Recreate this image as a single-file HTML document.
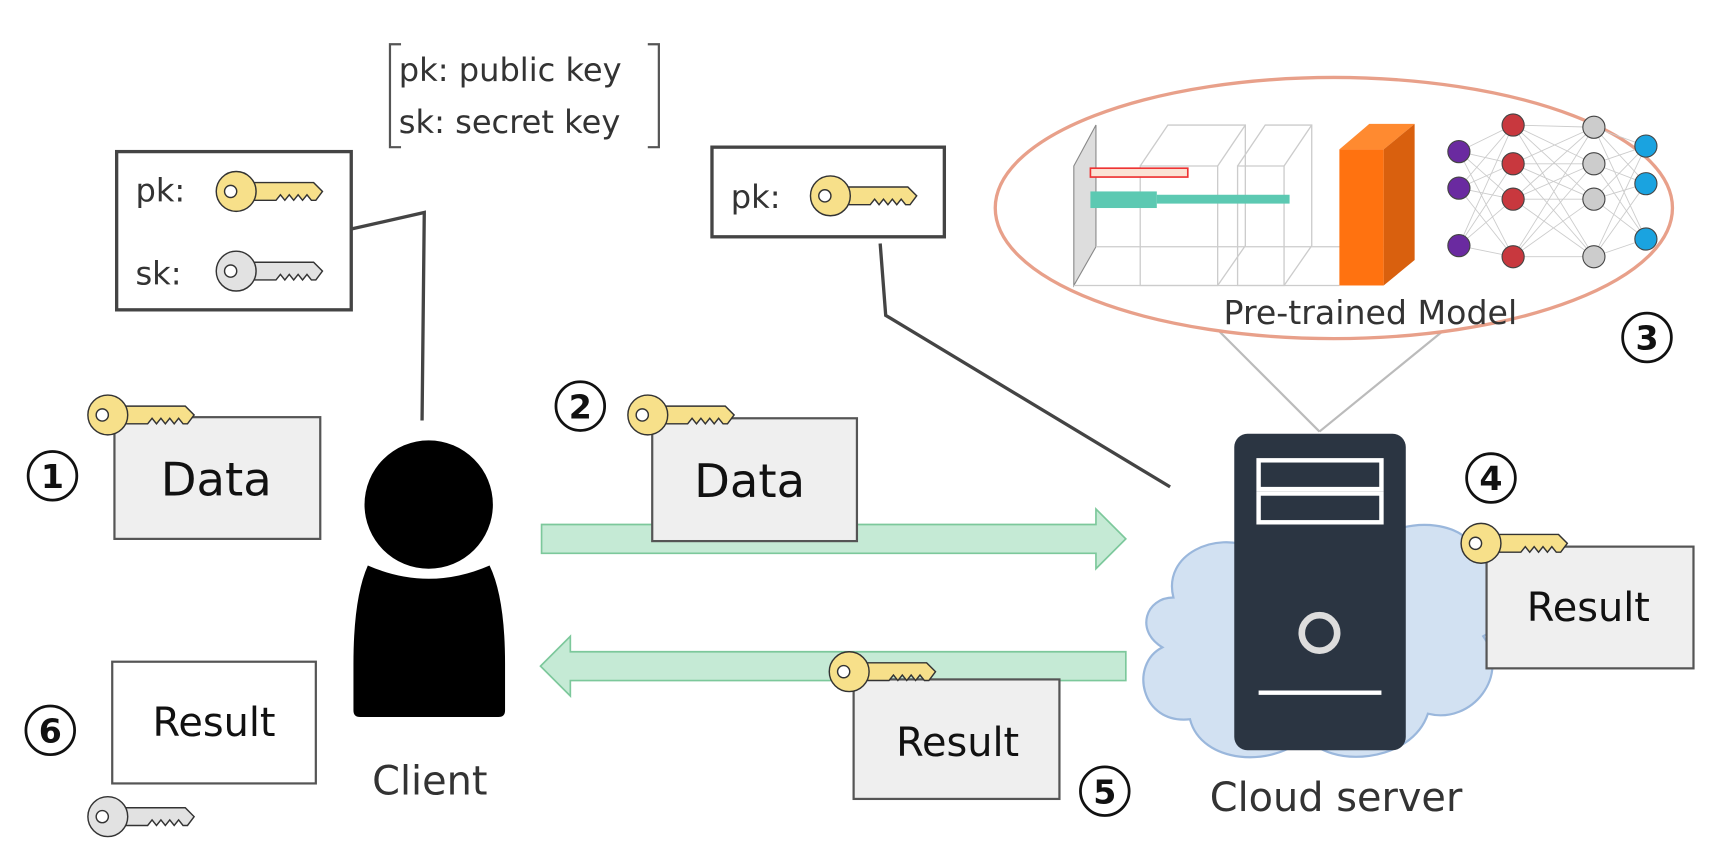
<!DOCTYPE html>
<html><head><meta charset="utf-8"><style>
html,body{margin:0;padding:0;background:#fff;width:1736px;height:862px;overflow:hidden}
svg{display:block}
text{font-family:"DejaVu Sans","Liberation Sans",sans-serif}
</style></head><body>
<svg width="1736" height="862" viewBox="0 0 1568 779" xmlns="http://www.w3.org/2000/svg">
<defs>
<symbol id="key" overflow="visible">
<path d="M10,-8 L70,-8 L78,0 L72,8 L68,8 L64,3 L60,8 L56,3 L52,8 L48,3 L44,8 L40,3 L36,8 L10,8 Z" stroke="#333" stroke-width="1.3"/>
<circle cx="0" cy="0" r="18" stroke="#333" stroke-width="1.3"/>
<circle cx="-5" cy="0" r="5.5" fill="#fff" stroke="#333" stroke-width="1.3"/>
</symbol>
</defs>

<text x="360" y="73" font-size="29" fill="#333">pk: public key</text>
<text x="360" y="120" font-size="29" fill="#333">sk: secret key</text>
<path d="M362,40 H352 V133 H362 M585,40 H595 V133 H585" fill="none" stroke="#555" stroke-width="2"/>

<rect x="105" y="137" width="212" height="143" fill="#fff" stroke="#444" stroke-width="3"/>
<text x="122" y="182" font-size="29" fill="#333">pk:</text>
<use href="#key" x="213" y="173" fill="#f7e08a"/>
<text x="122" y="257" font-size="29" fill="#333">sk:</text>
<use href="#key" x="213" y="245" fill="#e2e2e2"/>
<polyline points="317,207 383,192 381,380" fill="none" stroke="#444" stroke-width="3"/>

<rect x="643" y="133" width="210" height="81" fill="#fff" stroke="#444" stroke-width="3"/>
<text x="660" y="188" font-size="29" fill="#333">pk:</text>
<use href="#key" x="750" y="177" fill="#f7e08a"/>
<polyline points="795,220 800,285 1057,440" fill="none" stroke="#444" stroke-width="3"/>

<line x1="1100" y1="298" x2="1192" y2="390" stroke="#bbb" stroke-width="2"/>
<line x1="1305" y1="298" x2="1192" y2="390" stroke="#bbb" stroke-width="2"/>
<ellipse cx="1205" cy="188" rx="306" ry="118" fill="#fff" stroke="#e8a08a" stroke-width="3"/>
<polygon points="970,150 990,113 990,223 970,258" fill="#ddd" stroke="#888"/>
<g fill="none" stroke="#ccc" stroke-width="1.2">
<polygon points="1030,150 1100,150 1100,258 1030,258"/>
<polyline points="1030,150 1055,113 1125,113 1125,222 1100,258"/>
<line x1="1100" y1="150" x2="1125" y2="113"/>
<polygon points="1118,150 1160,150 1160,258 1118,258"/>
<polyline points="1118,150 1143,113 1185,113 1185,222 1160,258"/>
<line x1="1160" y1="150" x2="1185" y2="113"/>
<line x1="990" y1="223" x2="1250" y2="223"/>
<line x1="970" y1="258" x2="1210" y2="258"/>
</g>
<rect x="985" y="152" width="88" height="8" fill="#fbe3d5" stroke="#e33" stroke-width="1.5"/>
<rect x="985" y="173" width="60" height="15" fill="#5cc9b2"/>
<rect x="1045" y="176" width="120" height="8" fill="#5cc9b2"/>
<polygon points="1210,135 1237,112 1278,112 1250,135" fill="#ff8a30"/>
<polygon points="1250,135 1278,112 1278,235 1250,258" fill="#d9600e"/>
<rect x="1210" y="135" width="40" height="123" fill="#ff7210"/>
<g stroke="#ccc" stroke-width="0.8">
<path d="M1318,137 L1367,113 M1318,137 L1367,148 M1318,137 L1367,180 M1318,137 L1367,232 M1318,170 L1367,113 M1318,170 L1367,148 M1318,170 L1367,180 M1318,170 L1367,232 M1318,222 L1367,113 M1318,222 L1367,148 M1318,222 L1367,180 M1318,222 L1367,232"/>
<path d="M1367,113 L1440,115 M1367,113 L1440,148 M1367,113 L1440,180 M1367,113 L1440,232 M1367,148 L1440,115 M1367,148 L1440,148 M1367,148 L1440,180 M1367,148 L1440,232 M1367,180 L1440,115 M1367,180 L1440,148 M1367,180 L1440,180 M1367,180 L1440,232 M1367,232 L1440,115 M1367,232 L1440,148 M1367,232 L1440,180 M1367,232 L1440,232"/>
<path d="M1440,115 L1487,132 M1440,115 L1487,166 M1440,115 L1487,216 M1440,148 L1487,132 M1440,148 L1487,166 M1440,148 L1487,216 M1440,180 L1487,132 M1440,180 L1487,166 M1440,180 L1487,216 M1440,232 L1487,132 M1440,232 L1487,166 M1440,232 L1487,216"/>
</g>
<g stroke="#444" stroke-width="1">
<circle cx="1318" cy="137" r="10" fill="#6a2aa0"/><circle cx="1318" cy="170" r="10" fill="#6a2aa0"/><circle cx="1318" cy="222" r="10" fill="#6a2aa0"/>
<circle cx="1367" cy="113" r="10" fill="#c8383e"/><circle cx="1367" cy="148" r="10" fill="#c8383e"/><circle cx="1367" cy="180" r="10" fill="#c8383e"/><circle cx="1367" cy="232" r="10" fill="#c8383e"/>
<circle cx="1440" cy="115" r="10" fill="#ccc"/><circle cx="1440" cy="148" r="10" fill="#ccc"/><circle cx="1440" cy="180" r="10" fill="#ccc"/><circle cx="1440" cy="232" r="10" fill="#ccc"/>
<circle cx="1487" cy="132" r="10" fill="#1aa3e0"/><circle cx="1487" cy="166" r="10" fill="#1aa3e0"/><circle cx="1487" cy="216" r="10" fill="#1aa3e0"/>
</g>
<text x="1238" y="293" font-size="30" fill="#333" text-anchor="middle">Pre-trained Model</text>

<g fill="none" stroke="#111" stroke-width="2.5">
<circle cx="1488" cy="305" r="22"/><circle cx="47" cy="430" r="22"/><circle cx="524" cy="367" r="22"/>
<circle cx="1347" cy="432" r="22"/><circle cx="998" cy="715" r="22"/><circle cx="45" cy="660" r="22"/>
</g>
<g font-size="30" font-weight="bold" fill="#111" text-anchor="middle">
<text x="1488" y="316">3</text><text x="47" y="441">1</text><text x="524" y="378">2</text>
<text x="1347" y="443">4</text><text x="998" y="726">5</text><text x="45" y="671">6</text>
</g>

<rect x="103" y="377" width="186" height="110" fill="#efefef" stroke="#555" stroke-width="2"/>
<text x="195" y="448" font-size="42" fill="#111" text-anchor="middle">Data</text>
<use href="#key" x="97" y="375" fill="#f7e08a"/>

<circle cx="387" cy="456" r="58" fill="#000"/>
<path d="M332,511 Q387,535 442,511 Q456,540 456,600 V642 Q456,648 450,648 H325 Q319,648 319,642 V600 Q319,540 332,511 Z" fill="#000"/>
<text x="388" y="718" font-size="36" fill="#333" text-anchor="middle">Client</text>

<polygon points="489,474 990,474 990,460 1017,487 990,514 990,500 489,500" fill="#c5ead5" stroke="#7cc89b" stroke-width="1.5"/>
<polygon points="1017,589 515,589 515,575 488,602 515,629 515,615 1017,615" fill="#c5ead5" stroke="#7cc89b" stroke-width="1.5"/>

<rect x="589" y="378" width="185" height="111" fill="#efefef" stroke="#555" stroke-width="2"/>
<text x="677" y="449" font-size="42" fill="#111" text-anchor="middle">Data</text>
<use href="#key" x="585" y="375" fill="#f7e08a"/>

<rect x="771" y="614" width="186" height="108" fill="#efefef" stroke="#555" stroke-width="2"/>
<text x="865" y="683" font-size="36" fill="#111" text-anchor="middle">Result</text>
<use href="#key" x="767" y="607" fill="#f7e08a"/>

<path d="M1060,540 C1050,500 1100,480 1130,495 C1150,465 1220,465 1240,490 C1270,465 1330,470 1335,505 C1370,510 1370,560 1340,575 C1365,610 1330,655 1290,645 C1275,690 1200,695 1180,665 C1150,695 1085,690 1075,650 C1030,655 1020,600 1050,585 C1025,570 1035,540 1060,540 Z" fill="#d2e1f2" stroke="#9ab7dc" stroke-width="2"/>

<rect x="1115" y="392" width="155" height="286" rx="12" fill="#2b3542"/>
<rect x="1137" y="416" width="111" height="26" fill="none" stroke="#fff" stroke-width="4"/>
<rect x="1137" y="446" width="111" height="26" fill="none" stroke="#fff" stroke-width="4"/>
<circle cx="1192" cy="572" r="16" fill="none" stroke="#ddd" stroke-width="6"/>
<line x1="1137" y1="626" x2="1248" y2="626" stroke="#fff" stroke-width="4"/>
<text x="1207" y="733" font-size="36" fill="#333" text-anchor="middle">Cloud server</text>

<rect x="1343" y="494" width="187" height="110" fill="#efefef" stroke="#555" stroke-width="2"/>
<text x="1435" y="561" font-size="36" fill="#111" text-anchor="middle">Result</text>
<use href="#key" x="1338" y="491" fill="#f7e08a"/>

<rect x="101" y="598" width="184" height="110" fill="#fff" stroke="#555" stroke-width="2"/>
<text x="193" y="665" font-size="36" fill="#111" text-anchor="middle">Result</text>
<use href="#key" x="97" y="738" fill="#e2e2e2"/>
</svg>
</body></html>
